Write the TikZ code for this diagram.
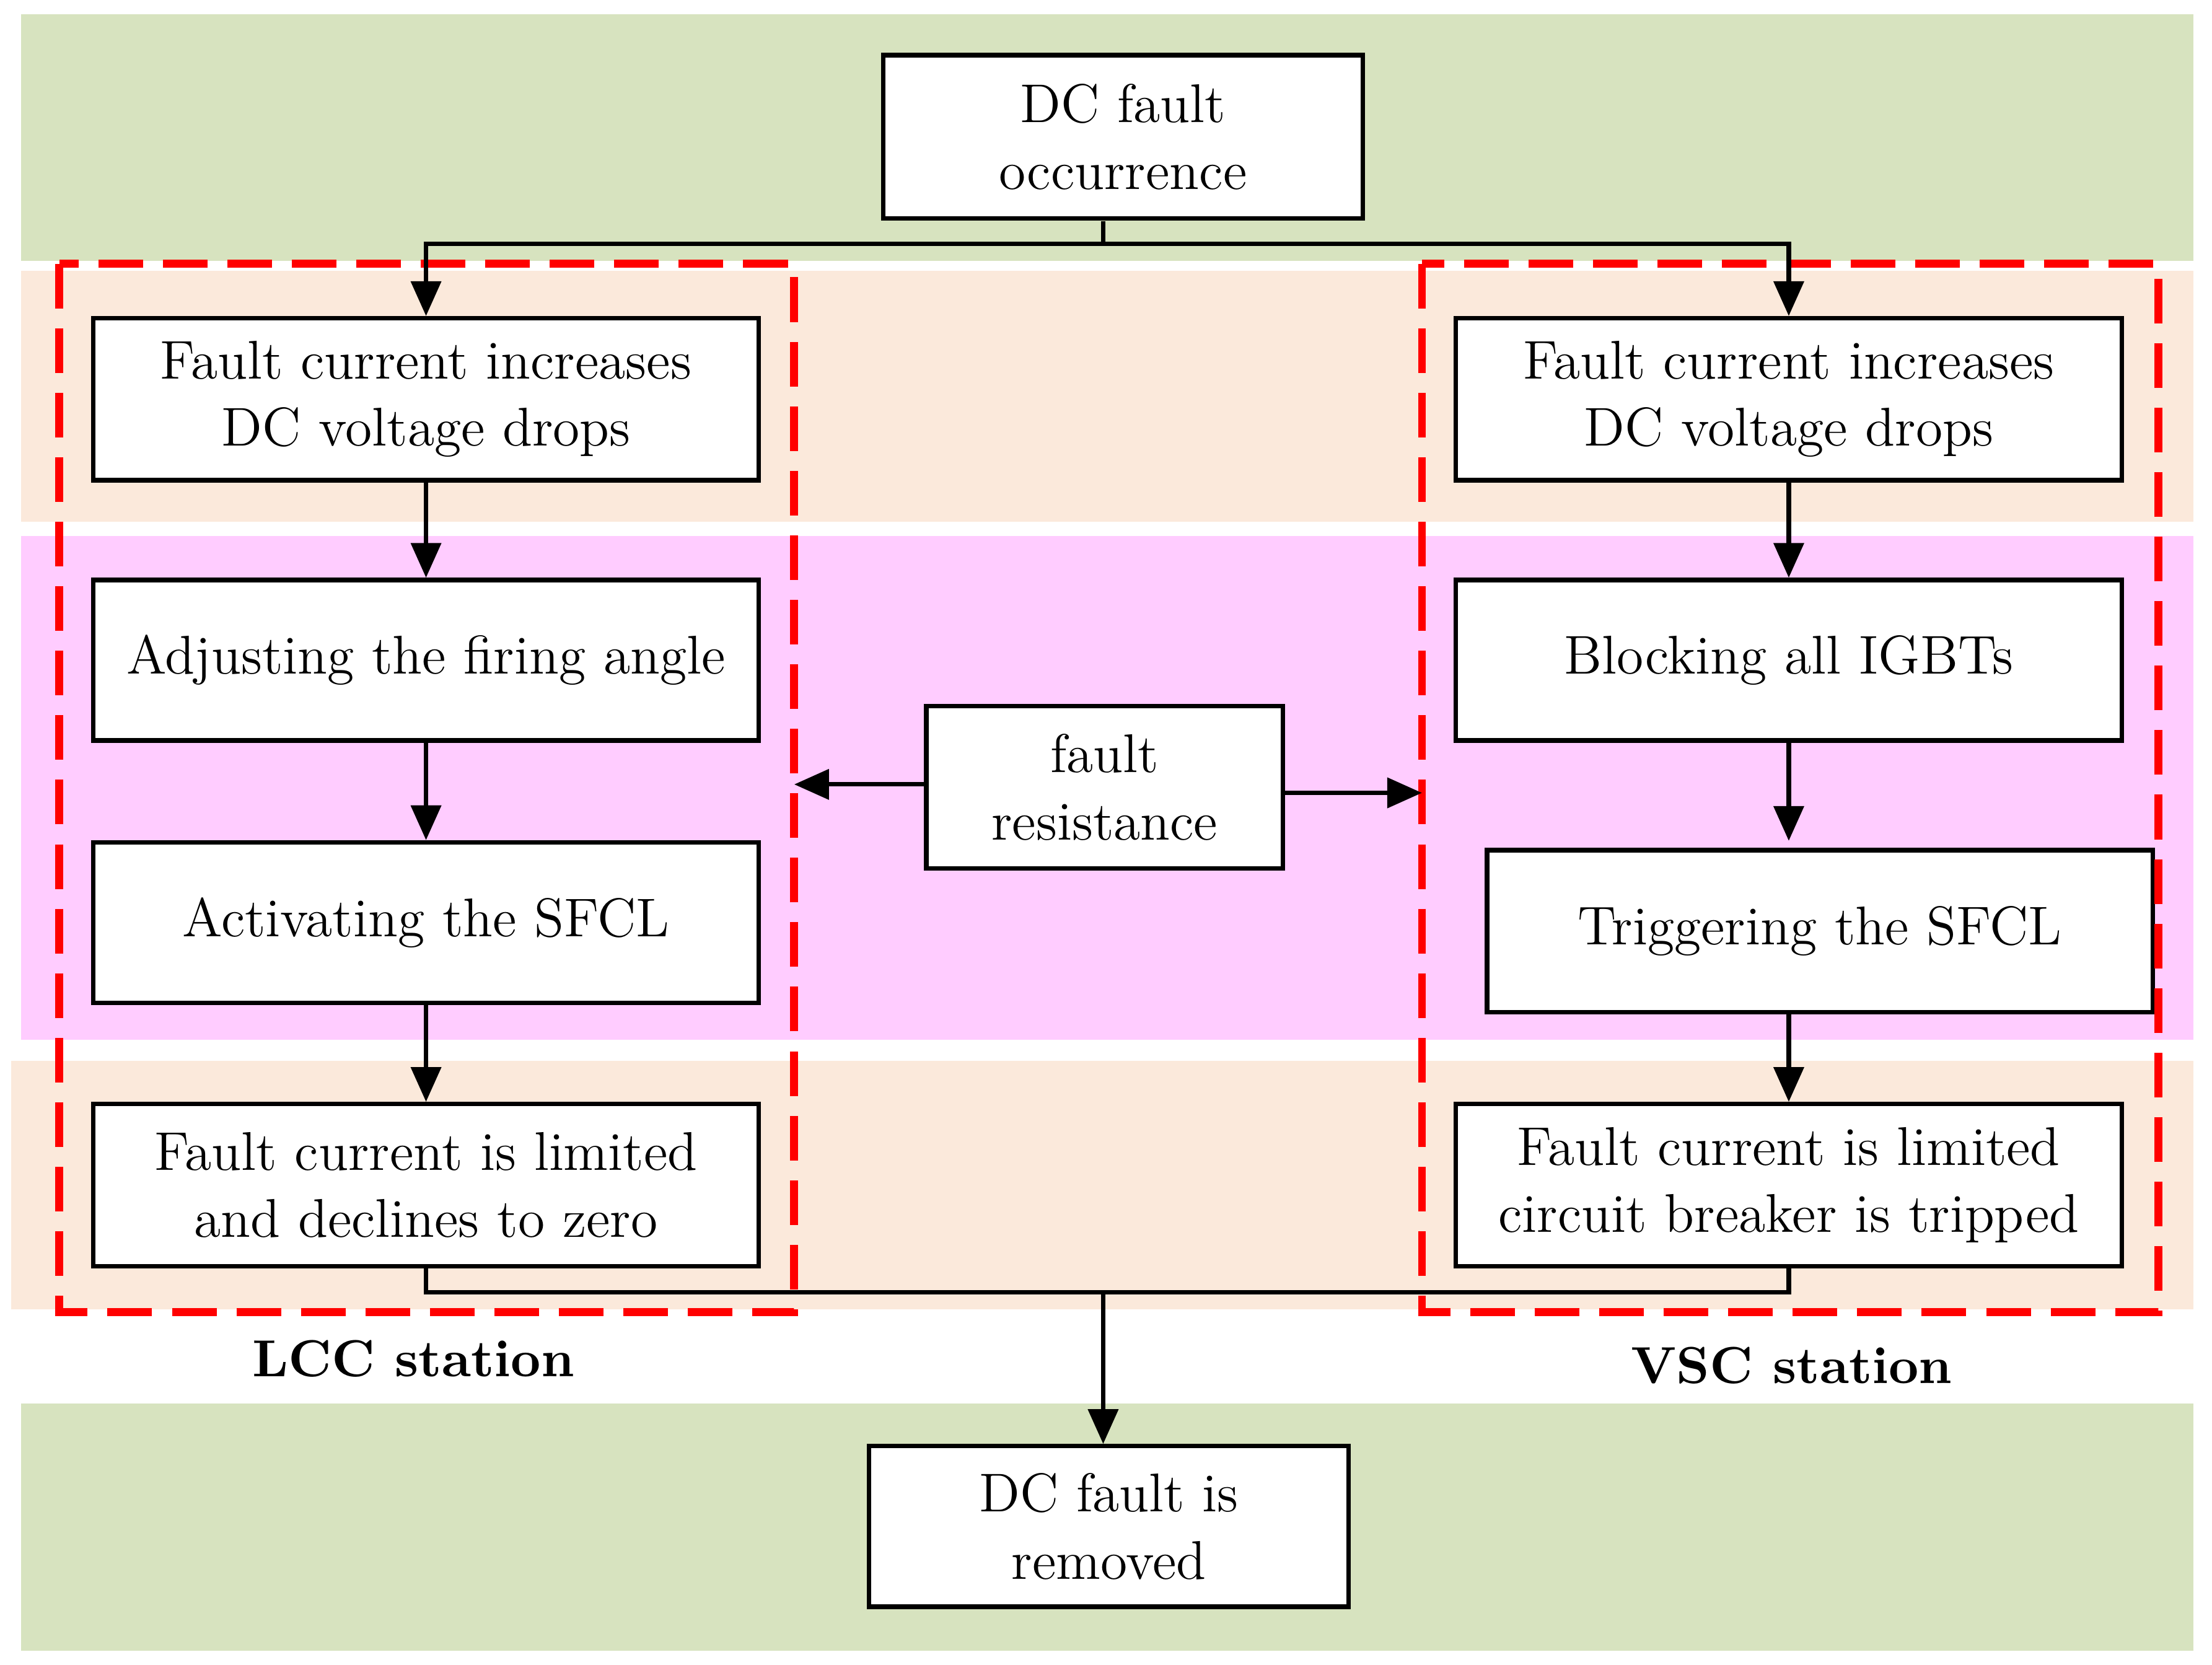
\documentclass[tikz,border=0pt]{standalone}
\usetikzlibrary{arrows.meta}
\begin{document}
\begin{tikzpicture}[x=0.01cm,y=-0.01cm,
  box/.style={draw,line width=0.9pt,fill=white,align=center,font=\fontsize{11}{13.5}\selectfont,inner sep=0pt},
  arr/.style={line width=0.9pt,-{Triangle[length=7pt,width=6pt]}},
  ln/.style={line width=0.9pt},
  lbl/.style={font=\bfseries\fontsize{10.5}{13}\selectfont},
  dbox/.style={draw=red,line width=1.6pt,dash pattern=on 9pt off 4pt}]
\definecolor{grn}{HTML}{D7E3BF}\definecolor{pch}{HTML}{FBE9DB}\definecolor{pnk}{HTML}{FFCCFF}
\useasboundingbox (0,0) rectangle (1568,1180);
\fill[grn] (15,10) rectangle (1555,185);
\fill[pch] (15,192) rectangle (1555,370);
\fill[pnk] (15,380) rectangle (1555,737);
\fill[pch] (8,752) rectangle (1555,928);
\fill[grn] (15,995) rectangle (1555,1170);
\newcommand{\bx}[6]{\node[box,minimum width=#4*0.01cm-0.9pt,minimum height=#5*0.01cm-0.9pt] (#1) at (#2,#3) {#6};}
\bx{top}{796}{97}{343}{119}{DC fault\\occurrence}
\bx{l1}{302}{283}{475}{118}{Fault current increases\\DC voltage drops}
\bx{l2}{302}{468}{475}{117}{Adjusting the firing angle}
\bx{l3}{302}{654}{475}{117}{Activating the SFCL}
\bx{l4}{302}{840}{475}{118}{Fault current is limited\\and declines to zero}
\bx{r1}{1268}{283}{475}{118}{Fault current increases\\DC voltage drops}
\bx{r2}{1268}{468}{475}{117}{Blocking all IGBTs}
\bx{r3}{1290}{660}{475}{118}{Triggering the SFCL}
\bx{r4}{1268}{840}{475}{118}{Fault current is limited\\circuit breaker is tripped}
\bx{fr}{783}{558}{256}{118}{fault\\resistance}
\bx{bot}{786}{1082}{343}{117}{DC fault is\\removed}
\draw[dbox] (42,187) rectangle (563,930);
\draw[dbox] (1008,187) rectangle (1530,930);
\coordinate (lt) at (563,556); \coordinate (rt) at (1008,562);
\node[lbl] (lcc) at (293,963) {LCC station};
\node[lbl] (vsc) at (1270,968) {VSC station};
\coordinate (s) at (782,173);
\draw[ln] (782,157) -- (s);
\draw[arr] (s) -| (l1.north);
\draw[arr] (s) -| (r1.north);
\draw[arr] (l1) -- (l2); \draw[arr] (l2) -- (l3); \draw[arr] (l3) -- (l4);
\draw[arr] (r1) -- (r2); \draw[arr] (r2.south) -- (1268,596); \draw[arr] (1268,719) -- (r4.north);
\draw[arr] (fr.west |- 0,556) -- (lt);
\draw[arr] (fr.east |- 0,562) -- (rt);
\coordinate (m) at (782,916);
\draw[ln] (l4.south) |- (m) -| (r4.south);
\draw[arr] (m) -- (bot.north -| m);
\end{tikzpicture}
\end{document}
